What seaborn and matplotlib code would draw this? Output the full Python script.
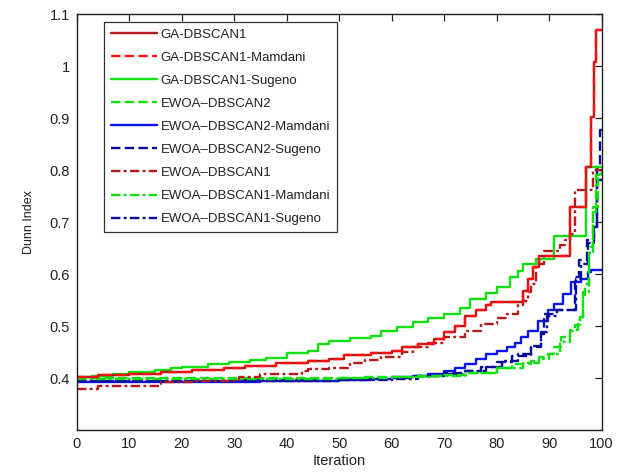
import matplotlib
matplotlib.use("Agg")
import matplotlib.pyplot as plt
import seaborn as sns
import pandas as pd

# Best Dunn index per iteration (step changes only; each value holds until the next step)
ga1_iter = [0, 4, 10, 16, 22, 28, 32, 38, 44, 48, 51, 56, 60, 62, 65, 68, 70, 72, 74, 76, 78, 79,
            85, 86, 87, 88, 94, 97, 98, 98.6, 99, 100]
ga1_dunn = [0.402, 0.405, 0.408, 0.412, 0.416, 0.420, 0.424, 0.428, 0.432, 0.436, 0.445, 0.449,
            0.452, 0.459, 0.466, 0.475, 0.488, 0.500, 0.520, 0.530, 0.540, 0.546, 0.568, 0.590,
            0.613, 0.634, 0.728, 0.806, 0.902, 1.008, 1.069, 1.069]

ga1_mam_iter = [0, 4, 10, 16, 22, 28, 32, 38, 44, 48, 51, 56, 60, 62, 65, 68, 70, 72, 74, 76, 78, 79,
                85, 86, 87, 88, 94, 97, 98, 98.6, 99, 100]
ga1_mam_dunn = [0.402, 0.405, 0.408, 0.412, 0.416, 0.420, 0.424, 0.428, 0.432, 0.436, 0.445, 0.449,
                0.452, 0.459, 0.466, 0.475, 0.488, 0.500, 0.520, 0.530, 0.540, 0.546, 0.568, 0.590,
                0.613, 0.634, 0.728, 0.806, 0.902, 1.008, 1.069, 1.069]

ga1_sug_iter = [0, 3, 7, 10, 15, 18, 20, 25, 29, 33, 36, 40, 44, 46, 48, 52, 56, 58, 61, 64, 67, 70,
                73, 75, 78, 80, 82.5, 84, 85, 87.5, 91, 97, 100]
ga1_sug_dunn = [0.402, 0.404, 0.407, 0.411, 0.415, 0.419, 0.422, 0.426, 0.431, 0.435, 0.438, 0.449,
                0.452, 0.465, 0.472, 0.476, 0.480, 0.490, 0.498, 0.507, 0.515, 0.523, 0.535, 0.552,
                0.563, 0.575, 0.594, 0.606, 0.620, 0.629, 0.674, 0.806, 0.806]

ewoa2_iter = [0, 55, 65, 70, 75, 80, 83, 86.5, 88, 89.7, 91, 92.3, 94, 95, 95.8, 96.5, 96.8, 97.5,
              97.7, 98.4, 99.3, 100]
ewoa2_dunn = [0.400, 0.401, 0.403, 0.405, 0.410, 0.420, 0.426, 0.433, 0.440, 0.446, 0.460, 0.478,
              0.490, 0.501, 0.517, 0.560, 0.581, 0.640, 0.652, 0.729, 0.793, 0.800]

ewoa2_mam_iter = [0, 20, 35, 50, 56, 60, 64, 67, 70, 72, 74, 76, 78, 80, 82, 83.5, 84.6, 86, 87.8,
                  89.7, 91, 92.6, 94.2, 96.1, 97.4, 98, 100]
ewoa2_mam_dunn = [0.392, 0.393, 0.394, 0.396, 0.399, 0.401, 0.404, 0.408, 0.414, 0.420, 0.427, 0.436,
                  0.446, 0.452, 0.459, 0.468, 0.478, 0.490, 0.510, 0.530, 0.543, 0.562, 0.584, 0.590,
                  0.604, 0.607, 0.607]

ewoa2_sug_iter = [0, 30, 50, 60, 64, 70, 73.7, 77, 80, 83, 86.5, 88.4, 89, 91, 95, 95.6, 97.2, 98.5,
                  99.1, 99.7, 100]
ewoa2_sug_dunn = [0.395, 0.396, 0.398, 0.400, 0.404, 0.409, 0.414, 0.421, 0.430, 0.443, 0.459, 0.485,
                  0.523, 0.530, 0.594, 0.626, 0.665, 0.690, 0.806, 0.877, 0.877]

ewoa1_iter = [0, 4, 16, 22, 31, 35, 43, 44, 48, 52, 55, 58, 62, 64, 67, 70, 74, 77, 80, 82, 84, 85,
              86, 86.5, 87.5, 89, 92, 93, 94, 95, 98.3, 100]
ewoa1_dunn = [0.379, 0.385, 0.392, 0.395, 0.402, 0.408, 0.413, 0.417, 0.420, 0.428, 0.434, 0.440,
              0.450, 0.459, 0.468, 0.478, 0.490, 0.504, 0.515, 0.523, 0.540, 0.549, 0.565, 0.581,
              0.620, 0.645, 0.655, 0.665, 0.677, 0.761, 0.800, 0.800]

ewoa1_mam_iter = [0, 25, 50, 60, 68, 74, 80, 85, 88, 90, 92, 94, 95.5, 96.5, 97.5, 98.3, 99, 100]
ewoa1_mam_dunn = [0.398, 0.399, 0.400, 0.401, 0.404, 0.410, 0.419, 0.428, 0.437, 0.446, 0.470, 0.492,
                  0.512, 0.565, 0.640, 0.720, 0.790, 0.806]

ewoa1_sug_iter = [0, 30, 50, 60, 65, 70, 74, 78, 81, 84, 86.5, 88.4, 89.5, 91.5, 95.2, 96, 97.4, 98.6,
                  99.2, 100]
ewoa1_sug_dunn = [0.394, 0.395, 0.397, 0.399, 0.403, 0.408, 0.414, 0.422, 0.432, 0.446, 0.461, 0.488,
                  0.520, 0.530, 0.590, 0.620, 0.660, 0.688, 0.780, 0.800]

labels = ["GA-DBSCAN1", "GA-DBSCAN1-Mamdani", "GA-DBSCAN1-Sugeno", "EWOA\u2013DBSCAN2",
          "EWOA\u2013DBSCAN2-Mamdani", "EWOA\u2013DBSCAN2-Sugeno", "EWOA\u2013DBSCAN1",
          "EWOA\u2013DBSCAN1-Mamdani", "EWOA\u2013DBSCAN1-Sugeno"]
x_ticks = [0, 10, 20, 30, 40, 50, 60, 70, 80, 90, 100]
y_ticks = [0.4, 0.5, 0.6, 0.7, 0.8, 0.9, 1.0, 1.1]
y_tick_labels = ["0.4", "0.5", "0.6", "0.7", "0.8", "0.9", "1", "1.1"]

series = [
    (ga1_iter, ga1_dunn),
    (ga1_mam_iter, ga1_mam_dunn),
    (ga1_sug_iter, ga1_sug_dunn),
    (ewoa2_iter, ewoa2_dunn),
    (ewoa2_mam_iter, ewoa2_mam_dunn),
    (ewoa2_sug_iter, ewoa2_sug_dunn),
    (ewoa1_iter, ewoa1_dunn),
    (ewoa1_mam_iter, ewoa1_mam_dunn),
    (ewoa1_sug_iter, ewoa1_sug_dunn),
]

dark_red = "#b51a1a"
red = "#ff1010"
green = "#10e010"
blue = "#0a14f0"
navy = "#0c0c9a"
dashed = (0, (4.0, 1.8))
dashdot = (0, (4.0, 1.4, 1.2, 1.4))
styles = [
    (dark_red, "-"), (red, dashed), (green, "-"),
    (green, dashed), (blue, "-"), (navy, dashed),
    (dark_red, dashdot), (green, dashdot), (navy, dashdot),
]

sns.set_theme(style="white")
plt.rcParams["font.family"] = ["Liberation Sans", "DejaVu Sans"]

fig = plt.figure(figsize=(6.25, 4.75), dpi=100)
ax = fig.add_axes([0.1227, 0.0947, 0.8400, 0.8758])

# Draw order: lower curves first, the GA curves on top
order = [4, 5, 8, 3, 7, 6, 2, 0, 1]
handles = {}
for i in order:
    it, dn = series[i]
    df = pd.DataFrame({"Iteration": it, "Dunn": dn})
    color, ls = styles[i]
    sns.lineplot(data=df, x="Iteration", y="Dunn", ax=ax, estimator=None, sort=True,
                 drawstyle="steps-post", color=color, linestyle=ls, linewidth=1.7,
                 label=labels[i])
    handles[i] = ax.get_lines()[-1]

ax.set_xlim(0, 100)
ax.set_ylim(0.3, 1.1)
ax.set_xticks(x_ticks)
ax.set_xticklabels([str(t) for t in x_ticks])
ax.set_yticks(y_ticks)
ax.set_yticklabels(y_tick_labels)
ax.tick_params(axis="both", which="both", direction="in", length=5, width=0.9,
               top=True, right=True, labelsize=10.5, colors="#222222", pad=5)
for lbl in ax.get_xticklabels() + ax.get_yticklabels():
    lbl.set_color("#222222")
for sp in ax.spines.values():
    sp.set_color("#222222")
    sp.set_linewidth(1.0)

ax.set_xlabel("Iteration", fontsize=10.5, color="#222222", labelpad=2)
ax.set_ylabel("Dunn Index", fontsize=9, color="#222222", labelpad=10)

leg = ax.legend([handles[i] for i in range(9)], labels, loc="upper left",
                bbox_to_anchor=(0.052, 0.981), frameon=True, fancybox=False,
                prop={"size": 9.5},
                edgecolor="#333333", framealpha=1.0, handlelength=3.5, handletextpad=0.3,
                labelspacing=0.82, borderpad=0.5, borderaxespad=0.0)
leg.get_frame().set_linewidth(0.9)
for t in leg.get_texts():
    t.set_color("#222222")

fig.savefig("out.png", dpi=100)
